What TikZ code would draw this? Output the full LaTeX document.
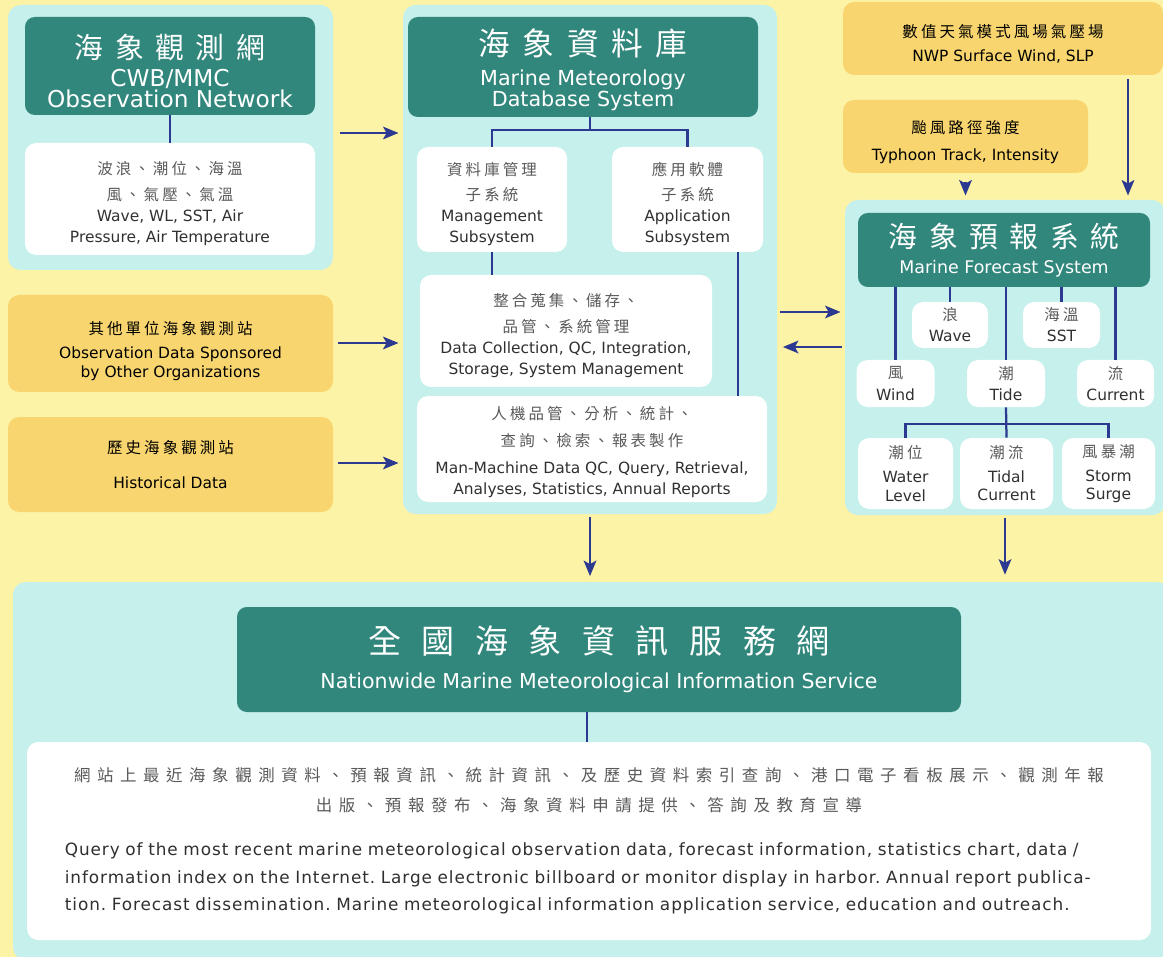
\documentclass[tikz,border=0pt]{standalone}
\usepackage{fontspec}
\setmainfont{DejaVu Sans}
\newfontfamily\cjkhead[LetterSpace=40]{Noto Sans CJK TC}
\newfontfamily\cjkwider[LetterSpace=62]{Noto Sans CJK TC}
\newfontfamily\cjkthin[LetterSpace=20]{Noto Sans CJK TC}
\newfontfamily\cjkbody[LetterSpace=40]{Noto Sans CJK TC}
\newfontfamily\widesans[LetterSpace=5.5]{DejaVu Sans}
\usetikzlibrary{arrows.meta,positioning}

\definecolor{bgyellow}{HTML}{FCF3A6}
\definecolor{panelcyan}{HTML}{C6F0EB}
\definecolor{tealbox}{HTML}{32877D}
\definecolor{srcorange}{HTML}{F8D56E}
\definecolor{linknavy}{HTML}{2B3990}
\definecolor{textdark}{HTML}{303030}
\definecolor{zhgray}{HTML}{5A5A5A}

\newcommand\bodyfont{\fontsize{11}{15}\selectfont}
\newcommand\zh[1]{{\color{zhgray}\cjkthin #1}}
\newcommand\lift[1]{\rule{0pt}{#1}}

\tikzset{
    panel/.style={fill=panelcyan, rounded corners=9pt, inner sep=0pt},
    headbox/.style={fill=tealbox, text=white, rounded corners=7pt, inner sep=0pt, align=center},
    itembox/.style={fill=white, rounded corners=8pt, inner sep=0pt, align=center, text=textdark, font=\bodyfont},
    srcbox/.style={fill=srcorange, rounded corners=8pt, inner sep=0pt, align=center, text=black, font=\bodyfont},
    boxsize/.style 2 args={minimum width=#1*0.025cm, minimum height=#2*0.025cm},
    link/.style={draw=linknavy, line width=1.6pt},
    arr/.style={link, ->},
}

\begin{document}
\begin{tikzpicture}[x=0.025cm, y=-0.025cm, >={Stealth[length=11pt, width=9pt, inset=2.5pt]}]
    \useasboundingbox (0,0) rectangle (1163,957);
    \fill[bgyellow] (0,0) rectangle (1163,957);

    % Panels
    \node [panel, boxsize={325}{265}]   (obsPanel) at (170.5,137.5) {};
    \node [panel, boxsize={374}{509}]   (dbPanel)  at (590,259.5)   {};
    \node [panel, boxsize={320}{315}]   (fcPanel)  at (1005,357.5)  {};
    \node [panel, boxsize={1157}{378}]  (svcPanel) at (591.5,771)   {};

    % Observation network
    \node [headbox, boxsize={290}{98}, font=\fontsize{16.5}{13}\selectfont] (obsHead) at (170,66)
        {\lift{24pt}{\cjkhead\fontsize{20.5}{20.5}\selectfont 海象觀測網}\\[5pt] CWB/MMC\\[0pt] Observation Network};
    \node [itembox, boxsize={290}{112}] (obsItems) at (170,199)
        {\lift{16pt}\zh{波浪、潮位、海溫}\\[3pt] \zh{風、氣壓、氣溫}\\ Wave, WL, SST, Air\\ Pressure, Air Temperature};

    % Other sources
    \node [srcbox, boxsize={325}{97}]  (otherObs) at (170.5,343.5)
        {\lift{20pt}{\cjkthin 其他單位海象觀測站}\\[2pt] Observation Data Sponsored\\[-1.5pt] by Other Organizations};
    \node [srcbox, boxsize={325}{95}]  (histObs)  at (170.5,464.5)
        {{\cjkthin 歷史海象觀測站}\\[10pt] Historical Data};
    \node [srcbox, boxsize={320}{73}]  (nwp)      at (1003,38.5)
        {\lift{17.5pt}{\cjkthin 數值天氣模式風場氣壓場}\\[2pt] NWP Surface Wind, SLP};
    \node [srcbox, boxsize={245}{73}]  (typhoon)  at (965.5,136.5)
        {\lift{17.5pt}{\cjkthin 颱風路徑強度}\\[4pt] Typhoon Track, Intensity};

    % Database system
    \node [headbox, boxsize={350}{100}, font=\fontsize{14.7}{12.5}\selectfont] (dbHead) at (583,67)
        {\lift{23pt}{\cjkhead\fontsize{22.5}{22.5}\selectfont 海象資料庫}\\[7pt] Marine Meteorology\\[0pt] Database System};
    \node [itembox, boxsize={150}{105}] (dbMgmt) at (492,199.5)
        {\lift{16pt}\zh{資料庫管理}\\[3pt] \zh{子系統}\\ Management\\ Subsystem};
    \node [itembox, boxsize={151}{105}] (dbApp)  at (687.5,199.5)
        {\lift{16pt}\zh{應用軟體}\\[3pt] \zh{子系統}\\ Application\\ Subsystem};
    \node [itembox, boxsize={292}{112}] (dbInteg) at (566,331)
        {\lift{16pt}\zh{整合蒐集、儲存、}\\[3pt] \zh{品管、系統管理}\\ Data Collection, QC, Integration,\\ Storage, System Management};
    \node [itembox, boxsize={350}{106}] (dbQuery) at (592,449)
        {\lift{13.5pt}\zh{人機品管、分析、統計、}\\[4pt] \zh{查詢、檢索、報表製作}\\[4pt] Man-Machine Data QC, Query, Retrieval,\\ Analyses, Statistics, Annual Reports};

    % Forecast system
    \node [headbox, boxsize={292}{74}, font=\fontsize{12.4}{13}\selectfont] (fcHead) at (1004,250)
        {{\cjkhead\fontsize{20.5}{20.5}\selectfont 海象預報系統}\\[5pt] Marine Forecast System};
    \node [itembox, boxsize={76}{46}]  (wave)    at (950,325)    {\zh{浪}\\ Wave};
    \node [itembox, boxsize={77}{46}]  (sst)     at (1061.5,325) {\zh{海溫}\\ SST};
    \node [itembox, boxsize={78}{47}]  (wind)    at (895.5,383.5)  {\zh{風}\\ Wind};
    \node [itembox, boxsize={78}{47}]  (tide)    at (1006,383.5)   {\zh{潮}\\ Tide};
    \node [itembox, boxsize={77}{47}]  (current) at (1115.5,383.5) {\zh{流}\\ Current};
    \node [itembox, boxsize={95}{71}, font=\fontsize{11}{13}\selectfont]  (wlevel)   at (905.5,473.5)  {\zh{潮位}\\[4pt] Water\\ Level};
    \node [itembox, boxsize={93}{71}, font=\fontsize{11}{13}\selectfont]  (tcurrent) at (1006.5,473.5) {\zh{潮流}\\[4pt] Tidal\\ Current};
    \node [itembox, boxsize={93}{71}, font=\fontsize{11}{13}\selectfont]  (surge)    at (1108.5,473.5) {\zh{風暴潮}\\[4pt] Storm\\ Surge};

    % Information service
    \node [headbox, boxsize={724}{105}, font=\fontsize{14.6}{16}\selectfont] (svcHead) at (599,659.5)
        {{\cjkwider\fontsize{23.5}{23.5}\selectfont 全國海象資訊服務網}\\[9pt] Nationwide Marine Meteorological Information Service};
    \node [itembox, boxsize={1124}{198}, text width=26.2cm, font=\fontsize{12}{19.5}\selectfont] (svcItems) at (589,841)
        {{\color{zhgray}\cjkbody\fontsize{11.7}{21}\selectfont 網站上最近海象觀測資料、預報資訊、統計資訊、及歷史資料索引查詢、港口電子看板展示、觀測年報\\
          出版、預報發布、海象資料申請提供、答詢及教育宣導\par}
         \vspace{12pt}
         {\raggedright\widesans Query of the most recent marine meteorological observation data, forecast information, statistics chart, data /\\
          information index on the Internet.\ Large electronic billboard or monitor display in harbor.\ Annual report publica-\\
          tion.\ Forecast dissemination.\ Marine meteorological information application service, education and outreach.\par}};

    % Tree lines
    \draw [link] (obsHead.south) -- (obsItems.north);
    \coordinate (dbFork) at (590,130);
    \draw [link] (dbFork |- dbHead.south) -- (dbFork);
    \draw [link] (dbMgmt.north) |- (dbFork) -| (dbApp.north);
    \draw [link] (dbMgmt.south) -- (dbMgmt.south |- dbInteg.north);
    \draw [link] (dbApp.south -| 738,0) -- (dbQuery.north -| 738,0);
    \foreach \leaf in {wind, wave, tide, sst, current}
        \draw [link] (\leaf.north) -- (\leaf.north |- fcHead.south);
    \coordinate (tideFork) at (1006,424);
    \draw [link] (tide.south) -- (tcurrent.north);
    \draw [link] (wlevel.north) |- (tideFork) -| (surge.north);
    \draw [link] (svcHead.south -| 587,0) -- (svcItems.north -| 587,0);

    % Arrows
    \draw [arr, shorten <=5pt, shorten >=3pt] (obsPanel.east |- 0,133) -- (dbPanel.west |- 0,133);
    \draw [arr, shorten <=3pt, shorten >=3pt] (otherObs.east |- 0,343) -- (dbPanel.west |- 0,343);
    \draw [arr, shorten <=3pt, shorten >=3pt] (histObs.east |- 0,463) -- (dbPanel.west |- 0,463);
    \draw [arr, shorten <=2pt, shorten >=3pt] (dbPanel.east |- 0,312) -- (fcPanel.west |- 0,312);
    \draw [arr, shorten <=2pt, shorten >=4pt] (fcPanel.west |- 0,347) -- (dbPanel.east |- 0,347);
    \draw [arr, shorten <=3pt, shorten >=3pt] (nwp.south -| 1128,0) -- (fcPanel.north -| 1128,0);
    \draw [arr, shorten <=6pt, shorten >=3pt] (typhoon.south) -- (typhoon.south |- fcPanel.north);
    \draw [arr, shorten <=2pt, shorten >=4pt] (dbPanel.south) -- (dbPanel.south |- svcPanel.north);
    \draw [arr, shorten <=2pt, shorten >=5pt] (fcPanel.south) -- (fcPanel.south |- svcPanel.north);
\end{tikzpicture}
\end{document}
